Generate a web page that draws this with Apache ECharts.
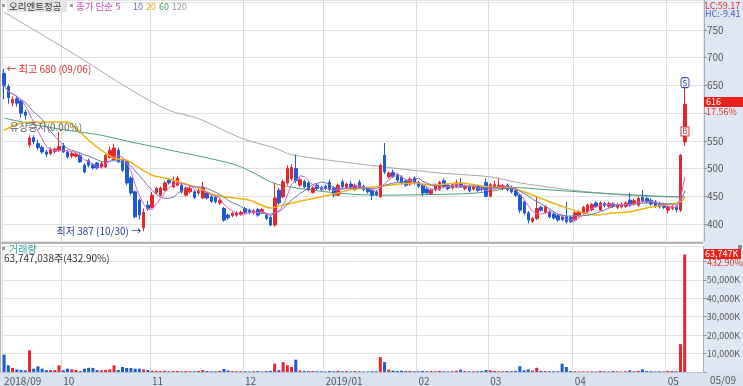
<!DOCTYPE html>
<html>
<head>
<meta charset="utf-8">
<script src="https://cdn.jsdelivr.net/npm/echarts@6/dist/echarts.min.js"></script>
<style>
html,body{margin:0;padding:0;background:#fff;}
#chart{width:743px;height:386px;}
</style>
</head>
<body>
<div id="chart"></div>
<script>
// 거래일 (2018/09/06 ~ 2019/05/09)
var months = ['2018/09','2018/10','2018/11','2018/12','2019/01','2019/02','2019/03','2019/04','2019/05'];
var monthDays = [
    [6,7,10,11,12,13,14,17,18,19,20,21,27,28],
    [1,2,4,5,8,10,11,12,15,16,17,18,19,22,23,24,25,26,29,30,31],
    [1,2,5,6,7,8,9,12,13,14,15,16,19,20,21,22,23,26,27,28,29,30],
    [3,4,5,6,7,10,11,12,13,14,17,18,19,20,21,24,26,27,28],
    [2,3,4,7,8,9,10,11,14,15,16,17,18,21,22,23,24,25,28,29,30,31],
    [1,7,8,11,12,13,14,15,18,19,20,21,22,25,26,27,28],
    [4,5,6,7,8,11,12,13,14,15,18,19,20,21,22,25,26,27,28,29],
    [1,2,3,4,5,8,9,10,11,12,15,16,17,18,19,22,23,24,25,26,29,30],
    [2,3,7,8,9]
];

var opens = [672,648,618,626,622,602,543,556,545,538,530,527,531,533,
    541,530,523,522,524,506,514,507,510,503,503,520,516,533,515,513,483,458,443,393,434,
    430,457,452,461,479,467,470,470,452,458,458,456,447,456,449,448,438,428,416,415,416,418,
    428,425,420,426,422,416,412,398,461,449,474,482,500,470,477,474,457,470,466,
    468,475,465,452,476,466,472,462,475,468,464,461,458,449,524,485,493,488,485,478,472,483,
    475,470,463,455,462,462,478,470,465,468,474,464,467,463,468,465,475,
    450,466,466,464,470,466,460,452,440,420,405,410,430,421,422,418,415,413,413,412,
    407,416,420,422,426,438,425,437,432,436,430,431,432,443,436,434,448,446,443,440,437,435,
    425,428,431,425,548];
var closes = [650,628,625,618,600,596,555,548,538,530,526,534,535,540,
    530,521,527,526,512,494,506,501,501,509,524,533,537,512,497,474,456,413,416,421,428,
    452,464,465,474,474,476,483,458,465,464,448,460,466,447,441,440,442,407,411,419,420,421,
    421,421,424,416,426,410,398,447,438,476,500,502,478,480,467,462,465,464,462,
    464,462,452,470,467,472,466,470,466,462,458,452,453,506,494,492,486,479,474,470,481,474,
    468,456,456,461,470,475,468,464,471,475,468,468,460,467,461,462,450,
    471,471,470,469,462,458,452,425,420,407,410,428,425,431,413,411,407,408,404,404,
    420,422,430,434,435,432,438,433,437,432,435,436,438,434,442,446,442,440,436,432,431,430,
    430,431,426,524,616];
var lows = [625,617,612,612,592,588,538,544,534,526,521,524,527,530,
    528,518,519,520,510,491,502,498,498,500,501,518,514,510,494,470,452,410,408,387,424,
    428,454,450,459,471,465,468,455,450,455,445,452,445,444,438,437,434,404,408,412,413,415,
    418,418,417,413,419,407,396,395,434,446,470,478,474,467,464,459,455,461,459,
    461,459,448,450,464,463,463,460,463,459,455,443,450,447,490,482,483,476,471,467,469,471,
    465,450,453,452,459,460,465,461,462,465,465,461,457,460,458,459,448,
    448,463,463,461,459,455,449,420,416,401,402,407,422,418,410,408,404,405,401,402,
    405,413,417,419,423,429,423,430,429,429,427,428,429,431,433,431,439,437,433,429,428,427,
    419,425,421,422,541];
var highs = [680,652,630,630,626,606,560,560,552,542,534,538,538,566,
    546,533,530,529,527,509,518,510,512,512,526,540,545,538,518,515,486,460,446,428,442,
    458,467,468,478,482,485,487,473,468,467,461,463,476,459,452,451,446,431,419,422,423,424,
    431,428,427,429,429,419,415,474,465,480,506,508,525,484,480,477,468,473,469,
    471,480,468,473,480,475,478,473,480,471,467,464,461,509,546,495,498,491,488,481,484,486,
    478,473,466,464,473,478,482,473,474,480,483,471,470,470,471,468,482,
    474,478,482,472,473,469,463,455,443,423,413,449,433,434,425,421,418,416,440,415,
    423,425,433,437,438,441,441,440,440,439,438,439,441,456,445,449,461,449,446,443,440,438,
    433,434,434,526,652];
// 거래량 (천주)
var volumes = [9400,3600,2200,1400,1100,900,11700,1800,3100,1800,1000,1000,1000,3600,
    1000,1800,1400,1100,500,1800,2300,2200,1100,900,1100,1400,3600,1100,2700,2200,2200,1800,1800,1400,1100,
    700,600,500,700,400,500,600,400,500,400,400,600,1000,500,400,400,600,1600,800,500,400,400,
    400,300,400,500,300,500,600,4500,1000,5400,3600,2700,6700,800,600,500,500,400,400,
    300,500,400,700,400,500,300,500,400,300,300,400,400,8100,5400,1300,800,600,700,500,600,400,
    400,600,400,500,400,600,400,300,400,700,1300,500,400,400,400,500,1100,
    900,500,400,400,500,400,600,3100,900,1400,700,2300,600,500,400,400,400,4500,2700,500,
    400,300,400,300,400,300,600,400,300,500,400,300,400,900,400,600,1400,500,400,300,400,300,
    600,500,400,15100,63747];

// 이동평균 20/60/120
var ma20Idx = [0,4,8,15,17,20,23,26,29,32,35,38,40,46,50,58,63,66,71,75,79,82,88,91,97,101,108,114,120,125,129,133,137,140,144,148,152,156,160,161];
var ma20Val = [569,582,584,584,573,551,533,519,515,501,488,483,479,465,452,443,429,434,443,449,456,462,467,470,474,470,474,467,465,452,440,429,420,416,420,422,429,434,440,449];
var ma60Idx = [0,8,15,23,30,37,40,47,55,59,63,66,72,80,89,100,110,116,120,128,140,150,160,161];
var ma60Val = [591,578,569,560,548,537,532,521,506,492,476,469,462,455,452,453,455,460,466,462,456,452,449,450];
var ma120Idx = [0,15,30,39,46,56,64,68,80,92,103,115,122,138,156,161];
var ma120Val = [782,714,642,605,590,555,537,525,512,501,492,485,474,458,449,449];

var priceLabels = [400,450,500,550,650,700,750];
var volLabels = [10000,20000,30000,40000,50000];

var UP = '#e8262a', DOWN = '#1e5ad4';
var FONT = "'Noto Sans CJK KR', 'DejaVu Sans', sans-serif";

var dates = [];
var monthStart = {};
for (var m = 0; m < months.length; m++) {
    for (var d = 0; d < monthDays[m].length; d++) {
        if (d === 0) monthStart[dates.length] = (dates.length === 0 || months[m].slice(5) === '01') ? months[m] : months[m].slice(5);
        dates.push(months[m] + '/' + (monthDays[m][d] < 10 ? '0' : '') + monthDays[m][d]);
    }
}
var padCount = 4;
for (var p = 0; p < padCount; p++) dates.push('pad' + p);

var candles = [];
var volBars = [];
for (var i = 0; i < opens.length; i++) {
    candles.push([opens[i], closes[i], lows[i], highs[i]]);
    volBars.push({value: volumes[i], itemStyle: {color: closes[i] >= opens[i] ? UP : DOWN}});
}

function movingAvg(n) {
    return closes.map(function (c, i) {
        var s = 0, k = 0;
        for (var j = Math.max(0, i - n + 1); j <= i; j++) { s += closes[j]; k++; }
        return +(s / k).toFixed(1);
    });
}
function pairs(idx, val) {
    return idx.map(function (x, k) { return [x, val[k]]; });
}
function fmtK(v) {
    return String(v).replace(/\B(?=(\d{3})+(?!\d))/g, ',') + 'K';
}

var isMonthStart = function (index) { return monthStart[index] !== undefined; };

function txt(x, y, s, color, size) {
    return {
        type: 'text', x: x, y: y, z: 100,
        style: {text: s, fill: color, font: (size || 10) + 'px ' + FONT, verticalAlign: 'middle', textVerticalAlign: 'middle'}
    };
}

var chart = echarts.init(document.getElementById('chart'));
chart.setOption({
    animation: false,
    textStyle: {fontFamily: FONT},
    grid: [
        {left: 2, right: 39, top: 0, height: 241},
        {left: 2, right: 39, top: 246, height: 126.5}
    ],
    xAxis: [
        {type: 'category', gridIndex: 0, data: dates, boundaryGap: true,
            axisLine: {show: false}, axisTick: {show: false}, axisLabel: {show: false},
            splitLine: {show: true, interval: isMonthStart, lineStyle: {color: '#dcdcdc'}}},
        {type: 'category', gridIndex: 1, data: dates, boundaryGap: true,
            axisLine: {show: true, lineStyle: {color: '#b8c4d2'}}, axisTick: {show: false},
            axisLabel: {show: true, interval: isMonthStart, align: 'left', margin: 4,
                color: '#555', fontSize: 10,
                formatter: function (v, idx) { return monthStart[idx] || ''; }},
            splitLine: {show: true, interval: isMonthStart, lineStyle: {color: '#dcdcdc'}}}
    ],
    yAxis: [
        {type: 'value', gridIndex: 0, position: 'right', min: 369.3, max: 804.1,
            splitNumber: 8, minInterval: 50, maxInterval: 50,
            axisLine: {show: true, lineStyle: {color: '#9aa4b0', type: 'dotted'}},
            axisTick: {show: true, length: 3, lineStyle: {color: '#8a94a0'}},
            axisLabel: {color: '#555', fontSize: 10, margin: 3, showMinLabel: false, showMaxLabel: false,
                formatter: function (v) { return priceLabels.indexOf(v) >= 0 ? v : ''; }},
            splitLine: {show: true, lineStyle: {color: '#e2e2e2'}}},
        {type: 'value', gridIndex: 1, position: 'right', min: 0, max: 68378, interval: 10000,
            axisLine: {show: true, lineStyle: {color: '#9aa4b0', type: 'dotted'}},
            axisTick: {show: true, length: 3, lineStyle: {color: '#8a94a0'}},
            axisLabel: {color: '#555', fontSize: 9, margin: 3, showMaxLabel: false,
                formatter: function (v) { return volLabels.indexOf(v) >= 0 ? fmtK(v) : ''; }},
            splitLine: {show: true, lineStyle: {color: '#e2e2e2'}}}
    ],
    series: [
        {type: 'candlestick', name: '오리엔트정공', xAxisIndex: 0, yAxisIndex: 0, data: candles,
            barWidth: 3, clip: false,
            itemStyle: {color: UP, color0: DOWN, borderColor: UP, borderColor0: DOWN, borderWidth: 1},
            markPoint: {
                symbol: 'circle', symbolSize: 1,
                itemStyle: {color: 'rgba(0,0,0,0)'},
                data: [
                    {coord: [0, highs[0]], label: {show: true, position: 'right', distance: 2,
                        formatter: '← 최고 680 (09/06)', color: '#e0302a', fontSize: 10}},
                    {coord: [33, lows[33]], label: {show: true, position: 'left', distance: 2,
                        formatter: '최저 387 (10/30) →', color: '#2b3c9c', fontSize: 10}},
                    {coord: [1, 575], label: {show: true, position: 'right', distance: 1,
                        formatter: '유상증자(0.00%)', color: '#666', fontSize: 10}},
                    {coord: [161, 655], symbol: 'roundRect', symbolSize: [8, 10],
                        itemStyle: {color: '#fff', borderColor: '#3a48c8', borderWidth: 1},
                        label: {show: true, position: 'inside', formatter: 'S', color: '#3a48c8', fontSize: 8}},
                    {coord: [161, 567], symbol: 'rect', symbolSize: [8, 9],
                        itemStyle: {color: '#fff', borderColor: '#e0302a', borderWidth: 1},
                        label: {show: true, position: 'inside', formatter: 'B', color: '#e0302a', fontSize: 8}}
                ]
            }},
        {type: 'line', name: '120', data: pairs(ma120Idx, ma120Val), showSymbol: false, smooth: 0.3,
            lineStyle: {color: '#a8a8a8', width: 1}, z: 1},
        {type: 'line', name: '60', data: pairs(ma60Idx, ma60Val), showSymbol: false, smooth: 0.3,
            lineStyle: {color: '#4aa074', width: 1}, z: 1},
        {type: 'line', name: '20', data: pairs(ma20Idx, ma20Val), showSymbol: false, smooth: 0.3,
            lineStyle: {color: '#eeb310', width: 1.5}, z: 3},
        {type: 'line', name: '10', data: movingAvg(10), showSymbol: false,
            lineStyle: {color: '#6a78a8', width: 1}, z: 3},
        {type: 'line', name: '5', data: movingAvg(5), showSymbol: false,
            lineStyle: {color: '#d765c8', width: 1}, z: 3},
        {type: 'bar', name: '거래량', xAxisIndex: 1, yAxisIndex: 1, data: volBars, barWidth: 3}
    ],
    graphic: [
        {type: 'rect', shape: {x: 703, y: 0, width: 40, height: 373}, style: {fill: '#dfe7f2'}, z: -10, silent: true},
        {type: 'rect', shape: {x: 0, y: 373, width: 743, height: 13}, style: {fill: '#d9e3f0'}, z: -10, silent: true},
        {type: 'rect', shape: {x: 0, y: 242, width: 703, height: 2}, style: {fill: '#b4b4b4'}, z: 50},
        {type: 'rect', shape: {x: 0, y: 0, width: 1, height: 373}, style: {fill: '#b4b4b4'}, z: 50},
        // 상단 범례
        {type: 'rect', shape: {x: 2, y: 4, width: 3, height: 3}, style: {fill: '#999'}, z: 100},
        {type: 'rect', shape: {x: 7, y: 0, width: 60, height: 12}, style: {fill: '#e4e4e4'}, z: 99},
        txt(9, 6.5, '오리엔트정공', '#333', 9.5),
        {type: 'rect', shape: {x: 70, y: 4, width: 3, height: 3}, style: {fill: '#999'}, z: 100},
        txt(76, 6.5, '종가 단순 5', '#c24fba', 9.5),
        txt(133, 6.5, '10', '#5a6ea8', 9),
        txt(146, 6.5, '20', '#e2b000', 9),
        txt(159, 6.5, '60', '#3a9a5a', 9),
        txt(172, 6.5, '120', '#999', 9),
        // 우측 상단
        txt(705, 6, 'LC:59.17', '#e0302a', 9),
        txt(705, 14, 'HC:-9.41', '#3a62c0', 9),
        {type: 'rect', shape: {x: 704, y: 97, width: 39, height: 10}, style: {fill: '#e8201c'}, z: 100},
        txt(706, 102, '616', '#fff', 9),
        txt(706, 112, '17.56%', '#e0302a', 9),
        // 거래량
        {type: 'rect', shape: {x: 2, y: 247, width: 3, height: 3}, style: {fill: '#999'}, z: 100},
        txt(9, 249, '거래량', '#3aa6a6', 10),
        txt(4, 258.5, '63,747,038주(432.90%)', '#333', 10),
        {type: 'rect', shape: {x: 704, y: 249, width: 37, height: 10}, style: {fill: '#e8201c'}, z: 100},
        txt(705, 254, '63,747K', '#fff', 9),
        txt(707, 263, '432.90%', '#e0302a', 9),
        {type: 'rect', shape: {x: 738, y: 245, width: 4, height: 4}, style: {fill: '#888'}, z: 100},
        txt(710, 380, '05/09', '#555', 10)
    ]
});
</script>
</body>
</html>
